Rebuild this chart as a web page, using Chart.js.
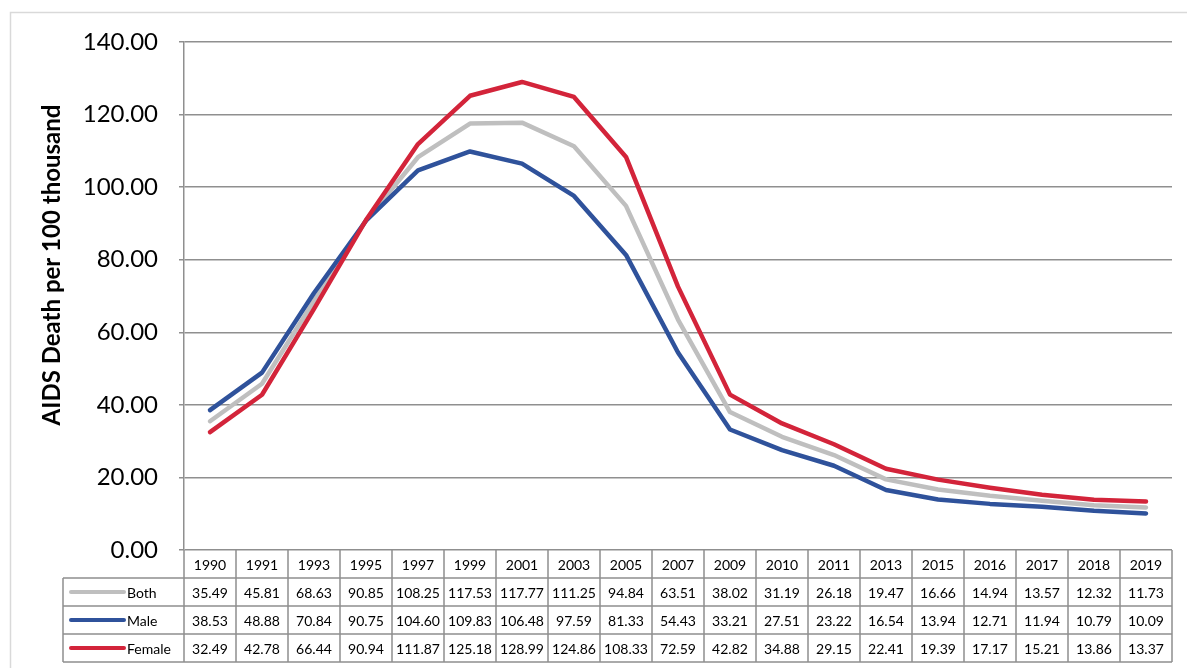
<!DOCTYPE html>
<html lang="en">
  <head>
    <meta charset="UTF-8" />
    <title>AIDS Death per 100 thousand</title>
    <style>
      html, body { margin: 0; padding: 0; background: #fff; }
      .chartBox { width: 1187px; height: 668px; position: relative; }
    </style>
  </head>
  <body>
    <div class="chartBox">
      <canvas id="myChart"></canvas>
    </div>
    <script src="https://cdn.jsdelivr.net/npm/chart.js"></script>
    <script>
      // data
      const years = ["1990", "1991", "1993", "1995", "1997", "1999", "2001", "2003", "2005", "2007",
        "2009", "2010", "2011", "2013", "2015", "2016", "2017", "2018", "2019"];
      const both = [35.49, 45.81, 68.63, 90.85, 108.25, 117.53, 117.77, 111.25, 94.84, 63.51,
        38.02, 31.19, 26.18, 19.47, 16.66, 14.94, 13.57, 12.32, 11.73];
      const male = [38.53, 48.88, 70.84, 90.75, 104.6, 109.83, 106.48, 97.59, 81.33, 54.43,
        33.21, 27.51, 23.22, 16.54, 13.94, 12.71, 11.94, 10.79, 10.09];
      const female = [32.49, 42.78, 66.44, 90.94, 111.87, 125.18, 128.99, 124.86, 108.33, 72.59,
        42.82, 34.88, 29.15, 22.41, 19.39, 17.17, 15.21, 13.86, 13.37];
      const seriesNames = ["Both", "Male", "Female"];
      const seriesColors = ["#bfbfbf", "#2f529b", "#d3243a"];
      const axisTitle = "AIDS Death per 100 thousand";

      const FONT = "Lato, 'Noto Sans', sans-serif";
      const gridColor = "#8f8f8f";

      // draws the outer frame, the y title and the data table below the plot
      const tablePlugin = {
        id: "dataTable",
        beforeDraw(chart) {
          const ctx = chart.ctx;
          ctx.save();
          ctx.strokeStyle = "#d9d9d9";
          ctx.lineWidth = 1.5;
          ctx.strokeRect(10.5, 12.5, chart.width + 20, chart.height + 20);
          ctx.restore();
        },
        afterDraw(chart) {
          const ctx = chart.ctx;
          const x = chart.scales.x;
          const area = chart.chartArea;
          const colW = (area.right - area.left) / years.length;
          const top = area.bottom;
          const rowH = 28;
          const legendLeft = 63;
          const rows = [both, male, female];
          const bottom = top + rowH * 4;

          ctx.save();
          ctx.strokeStyle = gridColor;
          ctx.lineWidth = 1.5;
          ctx.beginPath();
          for (let r = 1; r <= 4; r++) {
            const y = top + r * rowH;
            ctx.moveTo(legendLeft, y);
            ctx.lineTo(area.right, y);
          }
          ctx.moveTo(legendLeft, top + rowH);
          ctx.lineTo(legendLeft, bottom);
          for (let i = 0; i <= years.length; i++) {
            const cx = area.left + i * colW;
            ctx.moveTo(cx, top);
            ctx.lineTo(cx, bottom);
          }
          ctx.stroke();

          ctx.fillStyle = "#000";
          ctx.font = "14px " + FONT;
          ctx.textAlign = "center";
          ctx.textBaseline = "middle";
          for (let i = 0; i < years.length; i++) {
            const cx = x.getPixelForValue(i);
            ctx.fillText(years[i], cx, top + rowH / 2 + 1);
            for (let r = 0; r < rows.length; r++) {
              ctx.fillText(rows[r][i].toFixed(2), cx, top + rowH * (r + 1) + rowH / 2 + 1);
            }
          }

          // legend keys
          for (let r = 0; r < seriesNames.length; r++) {
            const cy = top + rowH * (r + 1) + rowH / 2;
            ctx.strokeStyle = seriesColors[r];
            ctx.lineWidth = 4;
            ctx.lineCap = "round";
            ctx.beginPath();
            ctx.moveTo(71, cy);
            ctx.lineTo(124, cy);
            ctx.stroke();
            ctx.textAlign = "left";
            ctx.fillText(seriesNames[r], 127, cy + 1);
          }

          // y axis title
          ctx.translate(52, 265);
          ctx.rotate(-Math.PI / 2);
          ctx.font = "bold 24px " + FONT;
          ctx.textAlign = "center";
          ctx.fillText(axisTitle, 0, 0);
          ctx.restore();
        },
      };

      const ctx = document.getElementById("myChart").getContext("2d");
      const myChart = new Chart(ctx, {
        type: "line",
        data: {
          labels: years,
          datasets: [
            { label: seriesNames[0], data: both, borderColor: seriesColors[0], order: 2 },
            { label: seriesNames[1], data: male, borderColor: seriesColors[1], order: 1 },
            { label: seriesNames[2], data: female, borderColor: seriesColors[2], order: 0 },
          ],
        },
        options: {
          responsive: true,
          maintainAspectRatio: false,
          animation: false,
          layout: { padding: { left: 0, right: 15, top: 42, bottom: 118 } },
          elements: {
            line: { borderWidth: 4.5, tension: 0, borderCapStyle: "round", borderJoinStyle: "round", fill: false },
            point: { radius: 0, hoverRadius: 0 },
          },
          plugins: {
            legend: { display: false },
            tooltip: { enabled: false },
          },
          scales: {
            x: {
              display: false,
              offset: true,
            },
            y: {
              min: 0,
              max: 140,
              afterFit(scale) {
                scale.width = 184;
              },
              ticks: {
                stepSize: 20,
                padding: 21,
                color: "#000",
                font: { family: FONT, size: 24 },
                callback: (v) => v.toFixed(2),
              },
              grid: {
                color: gridColor,
                lineWidth: 1.5,
                tickLength: 5,
              },
              border: { color: gridColor, width: 1.5 },
            },
          },
        },
        plugins: [tablePlugin],
      });
    </script>
  </body>
</html>
